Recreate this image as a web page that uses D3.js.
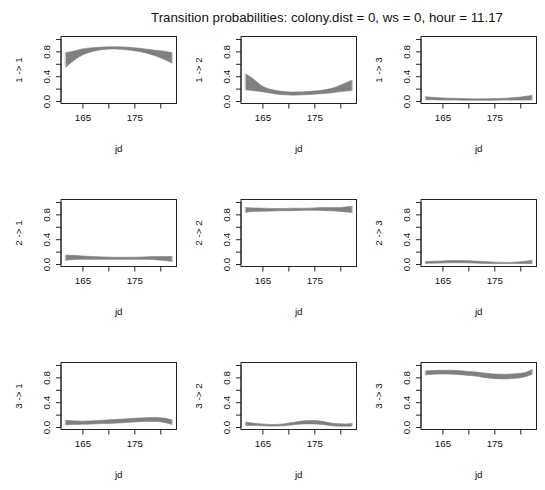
<!DOCTYPE html>
<html>
<head>
<meta charset="utf-8">
<script src="https://cdn.jsdelivr.net/npm/d3@7/dist/d3.min.js"></script>
<style>
  html, body { margin: 0; padding: 0; background: #fff; }
  svg { display: block; }
  text { font-family: "Liberation Sans", Arial, sans-serif; fill: #111; }
</style>
</head>
<body>
<svg id="chart" width="545" height="490"></svg>
<script>
// ---- data ----
const titleText = "Transition probabilities: colony.dist = 0, ws = 0, hour = 11.17";
const panelLabels = ["1 -> 1", "1 -> 2", "1 -> 3", "2 -> 1", "2 -> 2", "2 -> 3", "3 -> 1", "3 -> 2", "3 -> 3"];
const jd = [161.7, 163, 165, 167, 169, 171, 173, 175, 177, 179, 181, 182.3];
const xTicks = [165, 170, 175, 180];
const xTickLabels = ["165", "", "175", ""];
const yTicks = [0, 0.2, 0.4, 0.6, 0.8, 1.0];
const yTickLabels = ["0.0", "", "0.4", "", "0.8", ""];

const upper11 = [0.78, 0.80, 0.84, 0.86, 0.87, 0.875, 0.87, 0.86, 0.84, 0.82, 0.80, 0.78];
const lower11 = [0.54, 0.63, 0.74, 0.80, 0.83, 0.84, 0.83, 0.81, 0.78, 0.73, 0.66, 0.61];
const upper12 = [0.44, 0.37, 0.24, 0.18, 0.155, 0.145, 0.15, 0.16, 0.18, 0.22, 0.29, 0.34];
const lower12 = [0.18, 0.17, 0.15, 0.12, 0.10, 0.095, 0.10, 0.11, 0.12, 0.14, 0.16, 0.17];
const upper13 = [0.07, 0.06, 0.05, 0.045, 0.04, 0.035, 0.035, 0.04, 0.045, 0.055, 0.075, 0.095];
const lower13 = [0.02, 0.02, 0.015, 0.015, 0.012, 0.012, 0.012, 0.012, 0.015, 0.015, 0.015, 0.015];
const upper21 = [0.145, 0.14, 0.13, 0.12, 0.115, 0.11, 0.11, 0.11, 0.115, 0.12, 0.12, 0.12];
const lower21 = [0.06, 0.07, 0.075, 0.075, 0.075, 0.075, 0.075, 0.075, 0.075, 0.07, 0.055, 0.04];
const upper22 = [0.91, 0.905, 0.90, 0.895, 0.895, 0.90, 0.90, 0.905, 0.91, 0.91, 0.92, 0.93];
const lower22 = [0.83, 0.845, 0.85, 0.855, 0.86, 0.86, 0.865, 0.865, 0.86, 0.855, 0.84, 0.83];
const upper23 = [0.04, 0.045, 0.05, 0.055, 0.055, 0.05, 0.04, 0.03, 0.025, 0.03, 0.045, 0.06];
const lower23 = [0.01, 0.012, 0.015, 0.02, 0.02, 0.015, 0.01, 0.008, 0.008, 0.008, 0.008, 0.008];
const upper31 = [0.11, 0.10, 0.095, 0.10, 0.11, 0.12, 0.13, 0.14, 0.15, 0.155, 0.14, 0.115];
const lower31 = [0.035, 0.04, 0.045, 0.05, 0.055, 0.06, 0.07, 0.08, 0.09, 0.09, 0.07, 0.04];
const upper32 = [0.08, 0.065, 0.05, 0.04, 0.05, 0.075, 0.10, 0.105, 0.085, 0.055, 0.05, 0.055];
const lower32 = [0.03, 0.025, 0.02, 0.015, 0.02, 0.035, 0.05, 0.05, 0.035, 0.015, 0.012, 0.015];
const upper33 = [0.905, 0.91, 0.915, 0.915, 0.905, 0.89, 0.87, 0.855, 0.85, 0.86, 0.88, 0.93];
const lower33 = [0.84, 0.85, 0.855, 0.85, 0.84, 0.825, 0.80, 0.78, 0.775, 0.785, 0.81, 0.85];

const uppers = [upper11, upper12, upper13, upper21, upper22, upper23, upper31, upper32, upper33];
const lowers = [lower11, lower12, lower13, lower21, lower22, lower23, lower31, lower32, lower33];

// ---- layout ----
const svg = d3.select("#chart");
const colLeft = [61, 241, 421];
const rowTop = [36.5, 199.5, 362.5];
const boxW = 115.5, boxH = 67;
const bandColor = "#808080";
const fs = "9.8px";

svg.append("text")
  .attr("x", 327).attr("y", 22)
  .attr("text-anchor", "middle")
  .style("font-size", "13.3px")
  .text(titleText);

const jdMin = d3.min(jd), jdMax = d3.max(jd);
const ext = (jdMax - jdMin) * 0.04;

panelLabels.forEach((lab, i) => {
  const r = Math.floor(i / 3), c = i % 3;
  const g = svg.append("g").attr("transform", `translate(${colLeft[c]},${rowTop[r]})`);
  const x = d3.scaleLinear().domain([jdMin - ext, jdMax + ext]).range([0, boxW]);
  const y = d3.scaleLinear().domain([-0.04, 1.04]).range([boxH, 0]);

  const rows = jd.map((d, k) => ({ jd: d, lo: lowers[i][k], hi: uppers[i][k] }));
  const area = d3.area()
    .x(d => x(d.jd)).y0(d => y(d.lo)).y1(d => y(d.hi))
    .curve(d3.curveMonotoneX);
  g.append("path").datum(rows)
    .attr("d", area)
    .attr("fill", bandColor)
    .attr("stroke", bandColor)
    .attr("stroke-width", 0.6);

  // end caps (error-bar like)
  [rows[0], rows[rows.length - 1]].forEach(d => {
    const xx = x(d.jd);
    g.append("line").attr("x1", xx).attr("x2", xx)
      .attr("y1", y(d.lo)).attr("y2", y(d.hi))
      .attr("stroke", "#d8d8d8").attr("stroke-width", 1);
  });

  // box
  g.append("rect").attr("x", 0).attr("y", 0).attr("width", boxW).attr("height", boxH)
    .attr("fill", "none").attr("stroke", "#222").attr("stroke-width", 1);

  // x axis
  const xAxis = d3.axisBottom(x).tickValues(xTicks)
    .tickFormat((d, k) => xTickLabels[k]).tickSize(5).tickPadding(4);
  const gx = g.append("g").attr("transform", `translate(0,${boxH})`).call(xAxis);
  gx.select(".domain").attr("d", `M${x(xTicks[0])},0H${x(xTicks[xTicks.length - 1])}`).attr("stroke", "#222");
  gx.selectAll(".tick line").attr("stroke", "#222");
  gx.selectAll(".tick text").style("font-size", fs).style("font-family", "Liberation Sans, Arial, sans-serif")
    .attr("fill", "#111").attr("dy", "0.71em").attr("y", 11);

  // y axis
  const yAxis = d3.axisLeft(y).tickValues(yTicks)
    .tickFormat((d, k) => yTickLabels[k]).tickSize(5).tickPadding(0);
  const gy = g.append("g").call(yAxis);
  gy.select(".domain").attr("d", `M0,${y(0)}V${y(1)}`).attr("stroke", "#222");
  gy.selectAll(".tick line").attr("stroke", "#222");
  gy.selectAll(".tick text")
    .style("font-size", fs).style("font-family", "Liberation Sans, Arial, sans-serif")
    .attr("fill", "#111")
    .attr("x", null).attr("dy", null)
    .attr("text-anchor", "middle")
    .attr("transform", "translate(-11.5,0) rotate(-90)");

  // axis titles
  g.append("text").attr("x", boxW / 2).attr("y", boxH + 48)
    .attr("text-anchor", "middle").style("font-size", fs).text("jd");
  g.append("text")
    .attr("transform", `translate(-39.5,${boxH / 2}) rotate(-90)`)
    .attr("text-anchor", "middle").style("font-size", fs).text(lab);
});
</script>
</body>
</html>
